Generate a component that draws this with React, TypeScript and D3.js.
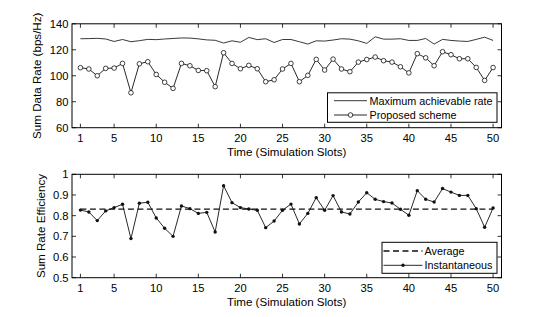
import React from 'react';
import * as d3 from 'd3';

const slots = [1,2,3,4,5,6,7,8,9,10,11,12,13,14,15,16,17,18,19,20,21,22,23,24,25,26,27,28,29,30,31,32,33,34,35,36,37,38,39,40,41,42,43,44,45,46,47,48,49,50];
const maxRate = [128.5,128.6,128.8,128.3,126.4,127.9,126.2,127.0,128.0,127.8,128.3,128.7,129.1,129.0,128.4,127.6,127.3,125.2,126.9,125.8,129.5,127.8,128.5,125.6,127.9,127.9,126.2,124.4,126.9,126.7,127.5,128.5,128.2,126.9,124.9,130.0,128.2,128.2,128.5,127.2,127.2,128.7,124.4,128.0,127.2,126.7,126.4,128.0,129.7,127.2];
const proposedRate = [106.2,105.2,100.0,105.7,105.9,109.5,86.9,109.2,110.8,101.0,95.0,90.3,109.5,107.7,104.1,103.9,91.6,117.7,109.5,105.4,108.0,105.4,95.4,96.9,105.2,109.5,95.4,100.3,112.6,104.4,112.8,105.2,103.1,110.5,112.5,114.4,111.6,110.5,106.9,102.2,117.0,113.8,107.7,118.5,116.2,113.1,113.1,106.4,96.4,106.3];
const efficiency = [0.827,0.818,0.776,0.823,0.839,0.855,0.689,0.860,0.865,0.789,0.739,0.700,0.847,0.834,0.811,0.816,0.721,0.945,0.863,0.839,0.832,0.826,0.742,0.774,0.826,0.856,0.760,0.811,0.887,0.826,0.897,0.818,0.808,0.866,0.911,0.879,0.868,0.861,0.831,0.802,0.921,0.879,0.866,0.931,0.914,0.898,0.898,0.834,0.744,0.837];
const averageEfficiency = 0.832;
const xTicks = [1,5,10,15,20,25,30,35,40,45,50];
const rateTicks = [60,80,100,120,140];
const effTicks = [0.5,0.6,0.7,0.8,0.9,1];

const FONT = "'Liberation Sans', Arial, Helvetica, sans-serif";
const W = 554, H = 317;
const LEFT = 72, RIGHT = 501.5;
const TL = 4;

const x = d3.scaleLinear().domain([0, 51]).range([LEFT, RIGHT]);

function Frame({ y, yTicks, fmt, top, bottom, ylabel, ylabelX }) {
  const mid = (top + bottom) / 2;
  return (
    <g>
      {xTicks.map(t => (
        <g key={'x' + t}>
          <line x1={x(t)} x2={x(t)} y1={bottom} y2={bottom - TL} stroke="#000" strokeWidth={0.8} />
          <line x1={x(t)} x2={x(t)} y1={top} y2={top + TL} stroke="#000" strokeWidth={0.8} />
          <text x={x(t)} y={bottom + 14.5} textAnchor="middle" fontSize={11.2} fontFamily={FONT} fill="#000">{t}</text>
        </g>
      ))}
      {yTicks.map(t => (
        <g key={'y' + t}>
          <line x1={LEFT} x2={LEFT + TL} y1={y(t)} y2={y(t)} stroke="#000" strokeWidth={0.8} />
          <line x1={RIGHT} x2={RIGHT - TL} y1={y(t)} y2={y(t)} stroke="#000" strokeWidth={0.8} />
          <text x={LEFT - 3.5} y={y(t) + 4} textAnchor="end" fontSize={11.2} fontFamily={FONT} fill="#000">{fmt(t)}</text>
        </g>
      ))}
      <rect x={LEFT} y={top} width={RIGHT - LEFT} height={bottom - top} fill="none" stroke="#000" strokeWidth={1} />
      <text x={x(25.5)} y={bottom + 28.5} textAnchor="middle" fontSize={11.6} fontFamily={FONT} fill="#000">Time (Simulation Slots)</text>
      <text transform={`translate(${ylabelX},${mid}) rotate(-90)`} textAnchor="middle" fontSize={11.6} fontFamily={FONT} fill="#000">{ylabel}</text>
    </g>
  );
}

export default function App() {
  const yTop = d3.scaleLinear().domain([60, 140]).range([127.7, 23.8]);
  const yBot = d3.scaleLinear().domain([0.5, 1]).range([277.7, 174.3]);

  const lineMax = d3.line<number>().x((d, i) => x(slots[i])).y(d => yTop(d));
  const lineProp = d3.line<number>().x((d, i) => x(slots[i])).y(d => yTop(d));
  const lineEff = d3.line<number>().x((d, i) => x(slots[i])).y(d => yBot(d));

  return (
    <svg width={W} height={H} style={{ position: 'absolute', left: 0, top: 0, background: '#fff' }}>
      <rect width={W} height={H} fill="#fff" />
      {/* Top panel */}
      <path d={lineMax(maxRate) || ''} fill="none" stroke="#222" strokeWidth={0.9} />
      <path d={lineProp(proposedRate) || ''} fill="none" stroke="#111" strokeWidth={0.9} />
      {proposedRate.map((v, i) => (
        <circle key={'p' + i} cx={x(slots[i])} cy={yTop(v)} r={2.3} fill="#fff" stroke="#111" strokeWidth={0.8} />
      ))}
      <Frame y={yTop} yTicks={rateTicks} fmt={d => String(d)} top={23.8} bottom={127.7}
        ylabel="Sum Data Rate (bps/Hz)" ylabelX={40.8} />
      <g>
        <rect x={327.5} y={92.8} width={169.5} height={29.5} fill="#fff" stroke="#000" strokeWidth={1} />
        <line x1={334} x2={367} y1={100.7} y2={100.7} stroke="#222" strokeWidth={0.9} />
        <text x={369.5} y={104.6} fontSize={10.8} fontFamily={FONT} fill="#000">Maximum achievable rate</text>
        <line x1={334} x2={367} y1={115} y2={115} stroke="#111" strokeWidth={0.9} />
        <circle cx={350.5} cy={115} r={2.3} fill="#fff" stroke="#111" strokeWidth={0.8} />
        <text x={369.5} y={118.9} fontSize={10.8} fontFamily={FONT} fill="#000">Proposed scheme</text>
      </g>

      {/* Bottom panel */}
      <line x1={x(slots[0])} x2={x(slots[slots.length - 1])} y1={yBot(averageEfficiency)} y2={yBot(averageEfficiency)}
        stroke="#111" strokeWidth={1.3} strokeDasharray="6,3.5" />
      <path d={lineEff(efficiency) || ''} fill="none" stroke="#111" strokeWidth={0.9} />
      {efficiency.map((v, i) => (
        <circle key={'e' + i} cx={x(slots[i])} cy={yBot(v)} r={1.7} fill="#111" />
      ))}
      <Frame y={yBot} yTicks={effTicks} fmt={d => String(d)} top={174.3} bottom={277.7}
        ylabel="Sum Rate Efficiency" ylabelX={44.5} />
      <g>
        <rect x={382} y={242.3} width={115} height={31} fill="#fff" stroke="#000" strokeWidth={1} />
        <line x1={383.5} x2={422.5} y1={251} y2={251} stroke="#111" strokeWidth={1.3} strokeDasharray="6,3.5" />
        <text x={424.5} y={254.9} fontSize={10.8} fontFamily={FONT} fill="#000">Average</text>
        <line x1={383.5} x2={422.5} y1={265.3} y2={265.3} stroke="#111" strokeWidth={0.9} />
        <circle cx={403} cy={265.3} r={1.7} fill="#111" />
        <text x={424.5} y={269.2} fontSize={10.8} fontFamily={FONT} fill="#000">Instantaneous</text>
      </g>
    </svg>
  );
}
